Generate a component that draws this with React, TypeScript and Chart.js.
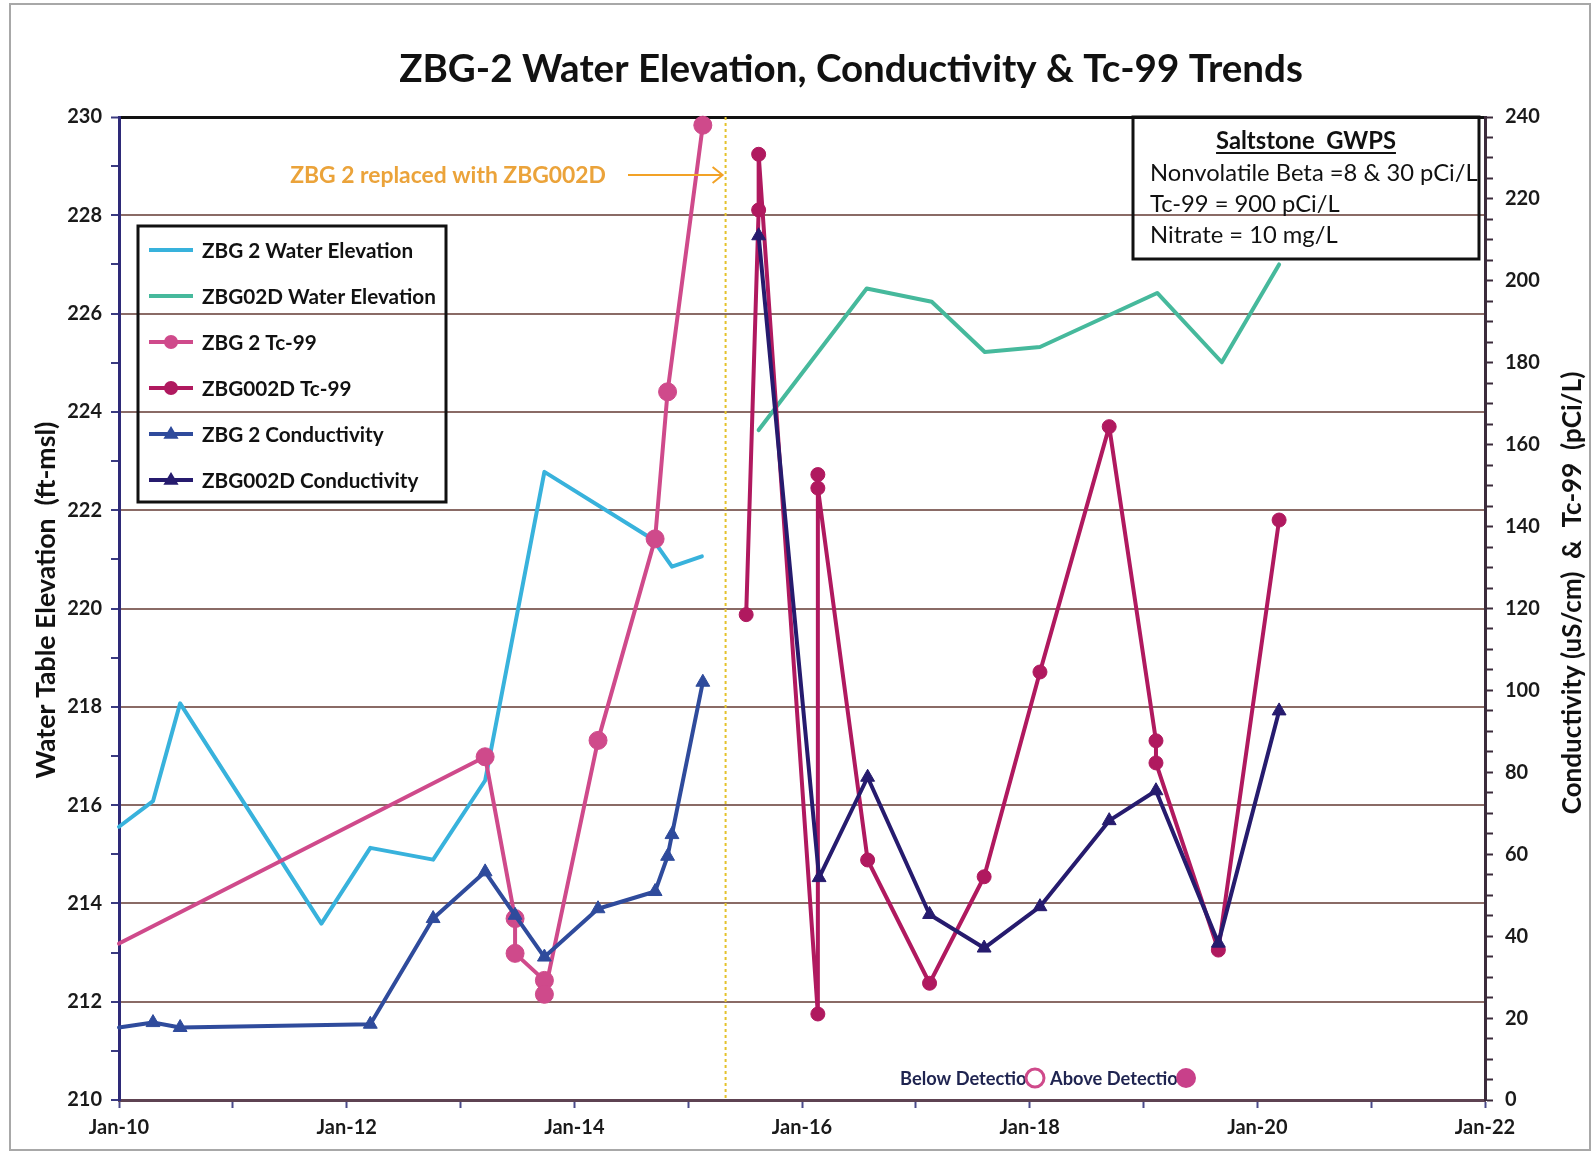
import React, { useEffect, useRef } from "react";
import { Chart, registerables } from "chart.js";

Chart.register(...registerables);

// ---------------- data ----------------
const xTickYears = [2010, 2012, 2014, 2016, 2018, 2020, 2022];
const xTickLabels = ["Jan-10", "Jan-12", "Jan-14", "Jan-16", "Jan-18", "Jan-20", "Jan-22"];
const leftAxisRange = [210, 230];
const rightAxisRange = [0, 240];
const replacementDate = "2015-05-01";

const zbg2WaterDates = ["2010-01-01", "2010-04-20", "2010-07-16", "2011-10-12", "2012-03-17", "2012-10-05", "2013-03-21", "2013-09-27", "2014-09-09", "2014-11-10", "2015-02-14"];
const zbg2WaterValues = [215.56, 216.08, 218.07, 213.59, 215.13, 214.89, 216.5, 222.78, 221.41, 220.85, 221.06];

const zbg02dWaterDates = ["2015-08-15", "2016-07-27", "2017-02-21", "2017-08-10", "2018-02-03", "2019-02-14", "2019-09-09", "2020-03-11"];
const zbg02dWaterValues = [223.63, 226.51, 226.24, 225.22, 225.32, 226.42, 225.01, 227.0];

const zbg2TcDates = ["2010-01-01", "2013-03-21", "2013-06-25", "2013-06-25", "2013-09-27", "2013-09-27", "2014-03-18", "2014-09-17", "2014-10-27", "2015-02-17"];
const zbg2TcValues = [38.2, 83.8, 44.3, 35.8, 29.2, 25.8, 87.8, 137.0, 172.9, 238.0];

const zbg002dTcDates = ["2015-07-06", "2015-08-15", "2015-08-15", "2016-02-21", "2016-02-21", "2016-02-21", "2016-07-30", "2017-02-14", "2017-08-08", "2018-02-03", "2018-09-13", "2019-02-10", "2019-02-10", "2019-08-29", "2020-03-11"];
const zbg002dTcValues = [118.5, 217.3, 230.9, 21.0, 152.7, 149.4, 58.6, 28.5, 54.5, 104.5, 164.4, 87.7, 82.3, 36.6, 141.6];

const zbg2CondDates = ["2010-01-01", "2010-04-20", "2010-07-16", "2012-03-17", "2012-10-05", "2013-03-21", "2013-06-25", "2013-09-27", "2014-03-18", "2014-09-17", "2014-10-27", "2014-11-10", "2015-02-17"];
const zbg2CondValues = [17.7, 18.9, 17.7, 18.5, 44.3, 55.7, 45.1, 34.9, 46.7, 50.9, 59.5, 64.8, 102.0];

const zbg002dCondDates = ["2015-08-15", "2016-02-25", "2016-07-30", "2017-02-14", "2017-08-08", "2018-02-03", "2018-09-13", "2019-02-10", "2019-08-29", "2020-03-11"];
const zbg002dCondValues = [211.0, 54.3, 78.8, 45.3, 37.1, 47.2, 68.2, 75.5, 38.3, 95.0];

const titleText = "ZBG-2 Water Elevation, Conductivity & Tc-99 Trends";
const leftAxisTitle = "Water Table Elevation  (ft-msl)";
const rightAxisTitle = "Conductivity (uS/cm)  &  Tc-99  (pCi/L)";
const annotationText = "ZBG 2 replaced with ZBG002D";
const gwpsTitle = "Saltstone  GWPS";
const gwpsLines = ["Nonvolatile Beta =8 & 30 pCi/L", "Tc-99 = 900 pCi/L", "Nitrate = 10 mg/L"];
const detectionLabels = ["Below Detection", "Above Detection"];

// ---------------- helpers ----------------
const FONT = "Lato";
const W = 1596;
const H = 1153;

function toYear(s: string): number {
  const [y, m, d] = s.split("-").map(Number);
  const start = Date.UTC(y, 0, 1);
  const end = Date.UTC(y + 1, 0, 1);
  return y + (Date.UTC(y, m - 1, d) - start) / (end - start);
}

function pts(dates: string[], values: number[]) {
  return dates.map((d, i) => ({ x: toYear(d), y: values[i] }));
}

function fitSize(ctx: CanvasRenderingContext2D, text: string, weight: string, width: number): number {
  ctx.font = `${weight} 100px ${FONT}`;
  const w = ctx.measureText(text).width;
  return (100 * width) / w;
}

const COLORS = {
  zbg2Water: "#38b2dc",
  zbg02dWater: "#46b99c",
  zbg2Tc: "#cf4a8b",
  zbg002dTc: "#b0195f",
  zbg2Cond: "#2f4b9c",
  zbg002dCond: "#261b6e",
  grid: "#8a6b66",
  orange: "#eba33a",
  arrow: "#f2a226",
  vline: "#e4c22c",
};

const legendEntries = [
  { label: "ZBG 2 Water Elevation", color: COLORS.zbg2Water, marker: "none" },
  { label: "ZBG02D Water Elevation", color: COLORS.zbg02dWater, marker: "none" },
  { label: "ZBG 2 Tc-99", color: COLORS.zbg2Tc, marker: "circle" },
  { label: "ZBG002D Tc-99", color: COLORS.zbg002dTc, marker: "circle" },
  { label: "ZBG 2 Conductivity", color: COLORS.zbg2Cond, marker: "triangle" },
  { label: "ZBG002D Conductivity", color: COLORS.zbg002dCond, marker: "triangle" },
];

function drawTriangle(ctx: CanvasRenderingContext2D, x: number, y: number, r: number) {
  ctx.beginPath();
  ctx.moveTo(x, y - r);
  ctx.lineTo(x + r * 0.95, y + r * 0.6);
  ctx.lineTo(x - r * 0.95, y + r * 0.6);
  ctx.closePath();
  ctx.fill();
}

const decorPlugin = {
  id: "decor",
  beforeDraw(chart: any) {
    const ctx: CanvasRenderingContext2D = chart.ctx;
    ctx.save();
    ctx.fillStyle = "#ffffff";
    ctx.fillRect(0, 0, chart.width, chart.height);
    ctx.strokeStyle = "#a8a8a8";
    ctx.lineWidth = 2;
    ctx.strokeRect(10, 4, 1580, 1146);
    ctx.restore();
  },
  beforeDatasetsDraw(chart: any) {
    const ctx: CanvasRenderingContext2D = chart.ctx;
    const a = chart.chartArea;
    const x = chart.scales.x.getPixelForValue(toYear(replacementDate));
    ctx.save();
    ctx.strokeStyle = COLORS.vline;
    ctx.lineWidth = 2;
    ctx.setLineDash([3, 3]);
    ctx.beginPath();
    ctx.moveTo(x, a.top);
    ctx.lineTo(x, a.bottom);
    ctx.stroke();
    ctx.restore();
  },
  afterDraw(chart: any) {
    const ctx: CanvasRenderingContext2D = chart.ctx;
    const a = chart.chartArea;
    ctx.save();

    // title
    let s = fitSize(ctx, titleText, "bold", 904);
    ctx.font = `bold ${s}px ${FONT}`;
    ctx.fillStyle = "#111";
    ctx.textAlign = "center";
    ctx.textBaseline = "middle";
    ctx.fillText(titleText, 851, 70);

    // axis titles
    s = fitSize(ctx, leftAxisTitle, "bold", 357);
    ctx.save();
    ctx.translate(46, 600);
    ctx.rotate(-Math.PI / 2);
    ctx.font = `bold ${s}px ${FONT}`;
    ctx.fillText(leftAxisTitle, 0, 0);
    ctx.restore();

    s = fitSize(ctx, rightAxisTitle, "bold", 443);
    ctx.save();
    ctx.translate(1573, 593);
    ctx.rotate(-Math.PI / 2);
    ctx.font = `bold ${s}px ${FONT}`;
    ctx.fillText(rightAxisTitle, 0, 0);
    ctx.restore();

    // legend box
    const lx = 138, ly = 226, lw = 308, lh = 276;
    ctx.strokeStyle = "#111";
    ctx.lineWidth = 3;
    ctx.strokeRect(lx, ly, lw, lh);
    const ls = fitSize(ctx, "ZBG02D Water Elevation", "bold", 234);
    ctx.font = `bold ${ls}px ${FONT}`;
    ctx.textAlign = "left";
    legendEntries.forEach((e, i) => {
      const y = 250 + i * 46;
      ctx.strokeStyle = e.color;
      ctx.fillStyle = e.color;
      ctx.lineWidth = 4;
      ctx.beginPath();
      ctx.moveTo(149, y);
      ctx.lineTo(193, y);
      ctx.stroke();
      if (e.marker === "circle") {
        ctx.beginPath();
        ctx.arc(171, y, 7, 0, Math.PI * 2);
        ctx.fill();
      } else if (e.marker === "triangle") {
        drawTriangle(ctx, 171, y, 8);
      }
      ctx.fillStyle = "#111";
      ctx.fillText(e.label, 202, y + 1);
    });

    // GWPS box
    ctx.strokeStyle = "#111";
    ctx.lineWidth = 3;
    ctx.strokeRect(1133, a.top, 346, 142);
    const gs = fitSize(ctx, gwpsLines[0], "normal", 328);
    ctx.font = `bold ${gs}px ${FONT}`;
    ctx.textAlign = "center";
    ctx.fillStyle = "#111";
    ctx.fillText(gwpsTitle, 1306, 141);
    const tw = ctx.measureText(gwpsTitle).width;
    ctx.lineWidth = 2;
    ctx.beginPath();
    ctx.moveTo(1306 - tw / 2, 153);
    ctx.lineTo(1306 + tw / 2, 153);
    ctx.stroke();
    ctx.font = `normal ${gs}px ${FONT}`;
    ctx.textAlign = "left";
    gwpsLines.forEach((t, i) => ctx.fillText(t, 1150, 173 + i * 31));

    // annotation
    const vx = chart.scales.x.getPixelForValue(toYear(replacementDate));
    const as = fitSize(ctx, annotationText, "bold", 316);
    ctx.font = `bold ${as}px ${FONT}`;
    ctx.fillStyle = COLORS.orange;
    ctx.textAlign = "right";
    ctx.fillText(annotationText, 606, 176);
    ctx.strokeStyle = COLORS.arrow;
    ctx.lineWidth = 2;
    ctx.beginPath();
    ctx.moveTo(628, 175);
    ctx.lineTo(vx - 3, 175);
    ctx.moveTo(vx - 13, 167);
    ctx.lineTo(vx - 3, 175);
    ctx.lineTo(vx - 13, 183);
    ctx.stroke();

    // detection legend
    const ds = fitSize(ctx, detectionLabels[0], "bold", 137);
    ctx.font = `bold ${ds}px ${FONT}`;
    ctx.fillStyle = "#1f2450";
    ctx.textAlign = "left";
    ctx.fillText(detectionLabels[0], 900, 1079);
    ctx.fillText(detectionLabels[1], 1050, 1079);
    ctx.beginPath();
    ctx.arc(1035, 1078, 9, 0, Math.PI * 2);
    ctx.fillStyle = "#fff";
    ctx.fill();
    ctx.strokeStyle = COLORS.zbg2Tc;
    ctx.lineWidth = 3;
    ctx.stroke();
    ctx.beginPath();
    ctx.arc(1186, 1078, 10, 0, Math.PI * 2);
    ctx.fillStyle = "#c8408a";
    ctx.fill();

    ctx.restore();
  },
};

export default function App() {
  const ref = useRef<HTMLCanvasElement | null>(null);

  useEffect(() => {
    document.body.style.margin = "0";
    let chart: Chart | null = null;
    let cancelled = false;

    const build = () => {
      if (cancelled || !ref.current) return;
      const tickFont = { family: FONT, size: 20, weight: "bold" as const };
      const markerRadius = (r: number) => (c: any) => (c.dataIndex === 0 && c.raw && c.raw.x === 2010 ? 0 : r);

      chart = new Chart(ref.current, {
        type: "line",
        data: {
          datasets: [
            {
              label: "ZBG002D Conductivity",
              data: pts(zbg002dCondDates, zbg002dCondValues),
              yAxisID: "y2",
              borderColor: COLORS.zbg002dCond,
              backgroundColor: COLORS.zbg002dCond,
              borderWidth: 4,
              pointStyle: "triangle",
              pointRadius: 8,
              pointBorderWidth: 1,
            },
            {
              label: "ZBG002D Tc-99",
              data: pts(zbg002dTcDates, zbg002dTcValues),
              yAxisID: "y2",
              borderColor: COLORS.zbg002dTc,
              backgroundColor: COLORS.zbg002dTc,
              borderWidth: 4,
              pointStyle: "circle",
              pointRadius: 7,
              pointBorderWidth: 1,
            },
            {
              label: "ZBG 2 Conductivity",
              data: pts(zbg2CondDates, zbg2CondValues),
              yAxisID: "y2",
              borderColor: COLORS.zbg2Cond,
              backgroundColor: COLORS.zbg2Cond,
              borderWidth: 4,
              pointStyle: "triangle",
              pointRadius: markerRadius(8),
              pointBorderWidth: 1,
            },
            {
              label: "ZBG 2 Tc-99",
              data: pts(zbg2TcDates, zbg2TcValues),
              yAxisID: "y2",
              borderColor: COLORS.zbg2Tc,
              backgroundColor: COLORS.zbg2Tc,
              borderWidth: 4,
              pointStyle: "circle",
              pointRadius: markerRadius(9),
              pointBorderWidth: 1,
            },
            {
              label: "ZBG02D Water Elevation",
              data: pts(zbg02dWaterDates, zbg02dWaterValues),
              yAxisID: "y",
              borderColor: COLORS.zbg02dWater,
              backgroundColor: COLORS.zbg02dWater,
              borderWidth: 4,
              pointRadius: 0,
            },
            {
              label: "ZBG 2 Water Elevation",
              data: pts(zbg2WaterDates, zbg2WaterValues),
              yAxisID: "y",
              borderColor: COLORS.zbg2Water,
              backgroundColor: COLORS.zbg2Water,
              borderWidth: 4,
              pointRadius: 0,
            },
          ],
        },
        options: {
          animation: false,
          responsive: false,
          devicePixelRatio: 1,
          events: [],
          layout: { padding: { top: 117, left: 0, right: 0, bottom: 0 } },
          elements: { line: { tension: 0, borderJoinStyle: "round", borderCapStyle: "round" } },
          datasets: { line: { clip: false as any } },
          plugins: { legend: { display: false }, title: { display: false }, tooltip: { enabled: false } },
          scales: {
            x: {
              type: "linear",
              min: xTickYears[0],
              max: xTickYears[xTickYears.length - 1],
              afterFit: (s: any) => { s.height = 53; },
              ticks: {
                stepSize: 1,
                autoSkip: false,
                maxRotation: 0,
                padding: 8,
                color: "#1a1a1a",
                font: tickFont,
                callback: (v: any) => {
                  const i = xTickYears.indexOf(Number(v));
                  return i >= 0 ? xTickLabels[i] : "";
                },
              },
              grid: { drawOnChartArea: false, drawTicks: true, tickLength: 8, tickColor: "#4a4a8a", tickWidth: 2 },
              border: { display: true, color: "#5e4352", width: 3 },
            },
            y: {
              type: "linear",
              position: "left",
              min: leftAxisRange[0],
              max: leftAxisRange[1],
              afterFit: (s: any) => { s.width = 119; },
              ticks: {
                stepSize: 1,
                autoSkip: false,
                padding: 9,
                color: "#1a1a1a",
                font: tickFont,
                callback: (v: any) => (Number(v) % 2 === 0 ? String(v) : ""),
              },
              grid: {
                drawOnChartArea: true,
                drawTicks: true,
                tickLength: 8,
                tickColor: "#3a3a80",
                tickWidth: 2,
                color: (c: any) => {
                  const v = c.tick ? c.tick.value : 0;
                  if (v === leftAxisRange[1]) return "#111111";
                  return v % 2 === 0 ? COLORS.grid : "rgba(0,0,0,0)";
                },
                lineWidth: (c: any) => (c.tick && c.tick.value === leftAxisRange[1] ? 3 : 2),
              },
              border: { display: true, color: "#2e2a78", width: 3 },
            },
            y2: {
              type: "linear",
              position: "right",
              min: rightAxisRange[0],
              max: rightAxisRange[1],
              afterFit: (s: any) => { s.width = 111; },
              ticks: {
                stepSize: 5,
                autoSkip: false,
                padding: 12,
                color: "#1a1a1a",
                font: tickFont,
                callback: (v: any) => (Number(v) % 20 === 0 ? String(v) : ""),
              },
              grid: { drawOnChartArea: false, drawTicks: true, tickLength: 8, tickColor: "#3b2b3b", tickWidth: 2 },
              border: { display: true, color: "#3b2b3b", width: 3 },
            },
          },
        } as any,
        plugins: [decorPlugin as any],
      });
    };

    const fonts = (document as any).fonts;
    if (fonts && fonts.load) {
      Promise.all([
        fonts.load(`bold 20px ${FONT}`),
        fonts.load(`normal 20px ${FONT}`),
      ]).then(build, build);
    } else {
      build();
    }

    return () => {
      cancelled = true;
      if (chart) chart.destroy();
    };
  }, []);

  return (
    <div style={{ width: W, height: H }}>
      <canvas ref={ref} width={W} height={H} style={{ width: W, height: H, display: "block" }} />
    </div>
  );
}
